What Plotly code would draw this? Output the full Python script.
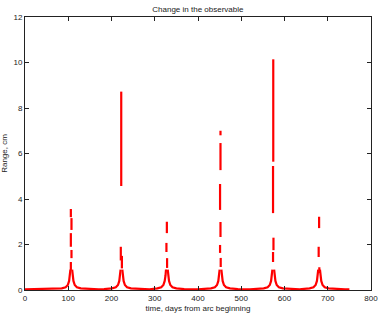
import plotly.graph_objects as go

# Continuous curve: baseline and peak wings (None breaks the line at each peak top)
CURVE_T = [0, 40, 67,
           85, 94, 99, 102, 104, 105, None,
           109, 110, 112, 115, 120, 129, 147, 170, 183,
           201, 210, 215, 218, 220, 221, None,
           225, 226, 228, 231, 236, 245, 263, 288,
           306, 315, 320, 323, 325, 326, None,
           330, 331, 333, 336, 341, 350, 368, 400, 412,
           430, 439, 444, 447, 449, 450, None,
           454, 455, 457, 460, 465, 474, 492, 520, 534,
           552, 561, 566, 569, 571, 572, None,
           576, 577, 579, 582, 587, 596, 614, 635, 640,
           658, 667, 672, 675, 677, 678, None,
           682, 683, 685, 688, 693, 702, 720, 740, 750]
CURVE_R = [0.03, 0.04, 0.04,
           0.07, 0.12, 0.22, 0.4, 0.65, 0.9, None,
           0.9, 0.65, 0.4, 0.22, 0.12, 0.07, 0.04, 0.03, 0.04,
           0.07, 0.12, 0.22, 0.4, 0.65, 0.9, None,
           0.9, 0.65, 0.4, 0.22, 0.12, 0.07, 0.04, 0.03,
           0.07, 0.12, 0.22, 0.4, 0.65, 0.9, None,
           0.9, 0.65, 0.4, 0.22, 0.12, 0.07, 0.04, 0.03, 0.04,
           0.07, 0.12, 0.22, 0.4, 0.65, 0.9, None,
           0.9, 0.65, 0.4, 0.22, 0.12, 0.07, 0.04, 0.03, 0.04,
           0.07, 0.12, 0.22, 0.4, 0.65, 0.9, None,
           0.9, 0.65, 0.4, 0.22, 0.12, 0.07, 0.04, 0.03, 0.04,
           0.07, 0.12, 0.22, 0.4, 0.65, 0.9, None,
           0.9, 0.65, 0.4, 0.22, 0.12, 0.07, 0.04, 0.03, 0.03]

# Near-vertical runs of samples at each peak (time, top value, bottom value)
DASH_T = [106, 107.5, 106, 107.5, 106,
          222.5, 221.5, 224,
          328, 327, 328.5,
          452, 452, 451, 452, 451, 452.5,
          574, 573.5, 574.5, 573.5,
          680, 679, 680.5]
DASH_TOP = [3.56, 3.16, 2.5, 1.76, 1.23,
            8.72, 1.9, 1.5,
            3.0, 2.07, 1.4,
            7.0, 6.46, 4.66, 2.99, 1.98, 1.41,
            10.14, 5.45, 2.3, 1.67,
            3.22, 1.9, 1.0]
DASH_BOT = [3.2, 2.64, 1.9, 1.4, 0.88,
            4.57, 1.3, 0.95,
            2.5, 1.67, 0.97,
            6.8, 5.27, 3.52, 2.33, 1.63, 1.01,
            5.64, 3.38, 1.75, 1.23,
            2.72, 1.45, 0.75]

X_TICKS = [0, 100, 200, 300, 400, 500, 600, 700, 800]
Y_TICKS = [0, 2, 4, 6, 8, 10, 12]

dx, dy = [], []
for t, a, b in zip(DASH_T, DASH_TOP, DASH_BOT):
    dx += [t, t, None]
    dy += [a, b, None]

RED = "#ff0000"
fig = go.Figure()
fig.add_trace(go.Scatter(x=CURVE_T, y=CURVE_R, mode="lines",
                         line=dict(color=RED, width=2.2), hoverinfo="skip"))
fig.add_trace(go.Scatter(x=dx, y=dy, mode="lines",
                         line=dict(color=RED, width=2.2), hoverinfo="skip"))

font = dict(family="Liberation Sans, Arial, sans-serif", size=8, color="#222222")
axis_common = dict(showline=True, linecolor="#222222", linewidth=1, mirror="ticks",
                   ticks="inside", ticklen=4, tickcolor="#222222", tickwidth=1,
                   showgrid=False, zeroline=False, tickfont=font, automargin=False)
fig.update_layout(
    width=382, height=313,
    margin=dict(l=25, r=11, t=17, b=23),
    paper_bgcolor="white", plot_bgcolor="white",
    showlegend=False,
    font=font,
    title=dict(text="Change in the observable", x=0.518, xanchor="center",
               y=0.97, yanchor="middle", font=font, automargin=False),
    xaxis=dict(range=[0, 800], tickvals=X_TICKS, ticktext=[str(v) for v in X_TICKS],
               title=dict(text="time, days from arc beginning", font=font),
               **axis_common),
    yaxis=dict(range=[0, 12], tickvals=Y_TICKS, ticktext=[str(v) for v in Y_TICKS],
               title=dict(text="Range, cm", font=font),
               **axis_common),
)
fig.write_html("out.html", config={"displayModeBar": False},
               post_script="document.body.style.margin='0';document.body.style.overflow='hidden';")
